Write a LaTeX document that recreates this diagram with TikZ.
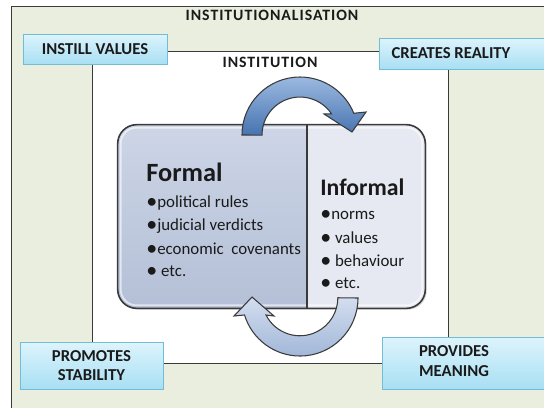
\documentclass[tikz,border=0pt]{standalone}
\usepackage{fontspec}
\setmainfont{Carlito}
\usetikzlibrary{positioning,shadows}

\definecolor{sage}{HTML}{EAEEDE}
\definecolor{lineink}{HTML}{3A3A3A}
\definecolor{ink}{HTML}{1A1A1A}
\definecolor{cyantop}{HTML}{DDF4FC}
\definecolor{cyanbot}{HTML}{A8DFF3}
\definecolor{cyanedge}{HTML}{72BCD4}
\definecolor{formaltop}{HTML}{CDD5E6}
\definecolor{formalbot}{HTML}{B4C0D7}
\definecolor{informalfill}{HTML}{E6E9F2}
\definecolor{arrowtop}{HTML}{9BB9E0}
\definecolor{arrowbot}{HTML}{4673B0}
\definecolor{backtop}{HTML}{D3DEEF}
\definecolor{backbot}{HTML}{A2B7D8}

\newcommand{\blob}{\raisebox{-0.4pt}{\fontsize{12.5}{11}\selectfont •}}

\begin{document}
\begin{tikzpicture}[x=0.02cm,y=-0.02cm,
    tagbox/.style={draw=cyanedge, top color=cyantop, bottom color=cyanbot, inner sep=0pt,
        drop shadow={opacity=0.3, shadow xshift=0.8pt, shadow yshift=-0.8pt}},
    tagtext/.style={font=\bfseries\fontsize{9.5}{11}\selectfont, text=ink, align=center},
    title/.style={font=\bfseries\fontsize{9}{10}\selectfont\addfontfeature{LetterSpace=6}, text=ink},
    heading/.style={font=\bfseries\fontsize{15}{18}\selectfont, text=ink, anchor=west, inner sep=0pt},
    item/.style={font=\fontsize{9.6}{11}\selectfont, text=ink, anchor=west, inner sep=0pt}
    ]

  \path[use as bounding box] (0,0) rectangle (544,407);
  \clip (0,0) rectangle (544,407);

  % outer frame
  \draw[lineink, fill=sage] (11,6) rectangle (580,430);
  \node[title] (realm) at (272,15) {INSTITUTIONALISATION};

  % institution square
  \node[draw=lineink, fill=white, minimum width=7.12cm, minimum height=6.24cm, inner sep=0pt] (institution) at (270,207) {};
  \node[title, below=0pt of institution.north] (insttitle) {INSTITUTION};

  % corner tags
  \node[tagbox, tagtext, minimum width=2.88cm, minimum height=0.6cm] (instill) at (95,49) {INSTILL VALUES};
  \node[tagbox, minimum width=3.62cm, minimum height=0.62cm,
        label={[tagtext, xshift=-0.37cm]center:CREATES REALITY}] (reality) at (469.5,53.5) {};
  \node[tagbox, tagtext, minimum width=2.86cm, minimum height=0.94cm] (stability) at (91.5,365.5) {PROMOTES\\STABILITY};
  \node[tagbox, minimum width=3.56cm, minimum height=1.04cm,
        label={[tagtext, xshift=-0.34cm, yshift=0.04cm]center:PROVIDES\\MEANING}] (meaning) at (471,363) {};

  % core box
  \node[fill=informalfill, minimum width=6.14cm, minimum height=3.66cm, rounded corners=0.38cm, inner sep=0pt,
        drop shadow={opacity=0.3, shadow xshift=1pt, shadow yshift=-1pt}] (core) at (271.5,216.5) {};
  \coordinate (split) at (307,125);
  \begin{scope}
    \clip[rounded corners=0.38cm] (core.north west) rectangle (core.south east);
    \shade[top color=formaltop, bottom color=formalbot] (core.north west) rectangle (split |- core.south);
  \end{scope}
  \draw[white, opacity=0.6, line width=1pt, rounded corners=0.32cm]
    ([shift={(3,3)}]core.north west) rectangle ([shift={(-3,-3)}]core.south east);
  \draw[lineink, line width=0.8pt] (split) -- (split |- core.south);
  \draw[lineink, line width=0.9pt, rounded corners=0.38cm] (core.north west) rectangle (core.south east);

  % formal side
  \node[heading] (formal) at (146,172) {Formal};
  \foreach \t [count=\i] in {\blob political rules, \blob judicial verdicts, \blob economic\ \ covenants, \blob\ etc.}
    \node[item] (formal\i) at (146,180+23*\i) {\t};

  % informal side
  \node[heading, font=\bfseries\fontsize{13.5}{16}\selectfont] (informal) at (320,187) {Informal};
  \foreach \t [count=\i] in {\blob norms, \blob\ values, \blob\ behaviour, \blob\ etc.}
    \node[item] (informal\i) at (320,192+23*\i) {\t};

  % cycle arrows
  \shadedraw[draw=lineink, line width=0.6pt, top color=arrowtop, bottom color=arrowbot]
    (242,135) arc[start angle=180, end angle=338, radius=58] -- (366,112) -- (352,132) -- (324,114)
    -- (331.5,113.8) arc[start angle=326, end angle=180, radius=38] -- cycle;
  \shadedraw[draw=lineink, line width=0.6pt, top color=backtop, bottom color=backbot]
    (358,298) arc[start angle=0, end angle=163, radius=58] -- (234,316) -- (252,297) -- (274,316)
    -- (266,315) arc[start angle=153, end angle=0, radius=38] -- cycle;
\end{tikzpicture}
\end{document}
